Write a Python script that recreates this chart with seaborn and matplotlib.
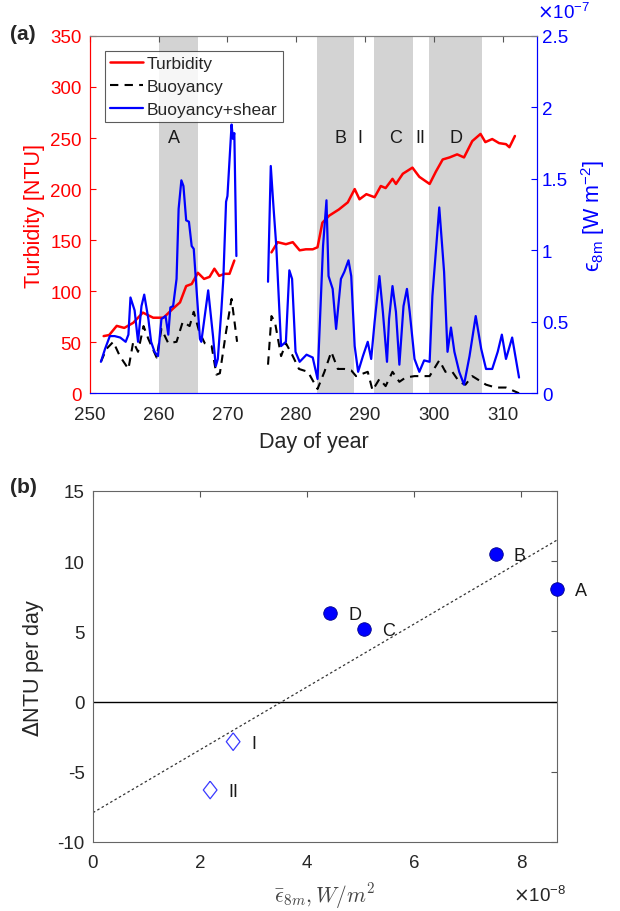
import numpy as np
import pandas as pd
import seaborn as sns
import matplotlib.pyplot as plt
from matplotlib.lines import Line2D
from matplotlib.ticker import FuncFormatter

sns.set_style('white')
plt.rcParams['font.family'] = ['Liberation Sans', 'DejaVu Sans']
plt.rcParams['axes.unicode_minus'] = False

# ---- panel (a): time series ----
turb_day1 = [252.0, 252.8, 253.9, 255.0, 256.3, 257.7, 259.2, 260.7, 262.1, 263.1,
             264.0, 264.8, 265.7, 266.6, 267.4, 268.1, 268.8, 269.6, 270.3, 271.0]
turb_ntu1 = [56, 57, 66, 64, 69, 79, 74, 74, 83, 89,
             105, 107, 118, 112, 114, 122, 115, 117, 117, 130]
turb_day2 = [276.4, 277.3, 278.5, 279.5, 280.5, 281.4, 282.4, 283.1, 283.8, 284.8,
             286.2, 287.5, 288.5, 289.2, 290.2, 291.4, 292.3, 293.0, 294.0, 294.5,
             295.5, 296.9, 297.9, 299.4, 300.3, 301.3, 302.3, 303.4, 304.4, 305.6,
             306.8, 307.5, 308.5, 309.5, 310.5, 311.0, 311.8]
turb_ntu2 = [138, 148, 146, 148, 140, 141, 141, 143, 167, 174,
             180, 187, 200, 190, 195, 192, 203, 201, 210, 205,
             215, 221, 212, 205, 217, 229, 231, 234, 231, 247,
             254, 246, 249, 245, 244, 241, 252]

# dissipation, units of 1e-7 W m^-2
buoy_day1 = [251.6, 252.4, 253.4, 254.35, 255.6, 256.3, 257.0, 257.8, 258.5, 259.7,
             260.4, 261.4, 262.6, 263.5, 264.5, 265.1, 265.9, 266.7, 267.7, 268.4,
             268.9, 269.8, 270.6, 271.4]
buoy_eps1 = [0.22, 0.31, 0.36, 0.26, 0.17, 0.36, 0.29, 0.47, 0.38, 0.25,
             0.45, 0.35, 0.36, 0.50, 0.47, 0.57, 0.43, 0.35, 0.33, 0.13,
             0.14, 0.43, 0.66, 0.36]
buoy_day2 = [275.9, 276.4, 276.9, 277.8, 278.5, 279.4, 280.4, 281.7, 283.1, 284.1,
             285.1, 286.05, 287.0, 288.0, 288.7, 290.4, 291.1, 292.1, 293.0, 294.0,
             295.0, 295.9, 297.2, 298.4, 299.4, 300.8, 301.7, 302.7, 303.7, 304.6,
             305.6, 306.6, 307.6, 309.0, 310.5, 312.4]
buoy_eps2 = [0.20, 0.54, 0.50, 0.26, 0.35, 0.27, 0.17, 0.15, 0.03, 0.15,
             0.29, 0.17, 0.17, 0.16, 0.12, 0.15, 0.02, 0.10, 0.05, 0.15,
             0.08, 0.11, 0.12, 0.12, 0.12, 0.23, 0.15, 0.15, 0.08, 0.06,
             0.12, 0.09, 0.06, 0.04, 0.04, 0.0]

bs_day1 = [251.6, 252.2, 252.9, 253.6, 254.4, 255.2, 255.6, 255.9, 256.5, 257.0,
           257.5, 257.9, 258.5, 258.9, 259.4, 259.9, 260.4, 261.0, 261.4, 261.7,
           262.1, 262.6, 262.9, 263.3, 263.6, 264.0, 264.4, 264.8, 265.1, 265.5,
           266.0, 266.2, 267.2, 267.9, 268.3, 268.6, 269.1, 269.4, 269.8, 270.0,
           270.6, 270.8, 271.0, 271.3]
bs_eps1 = [0.22, 0.31, 0.40, 0.40, 0.39, 0.36, 0.41, 0.67, 0.58, 0.36,
           0.61, 0.69, 0.52, 0.36, 0.29, 0.26, 0.52, 0.54, 0.41, 0.60,
           0.61, 0.80, 1.29, 1.49, 1.45, 1.21, 1.20, 1.03, 1.01, 0.73,
           0.38, 0.36, 0.72, 0.40, 0.19, 0.24, 0.57, 0.80, 1.34, 1.38,
           1.88, 1.78, 1.82, 0.96]
bs_day2 = [275.9, 276.3, 276.7, 277.1, 277.8, 278.5, 279.0, 279.4, 279.9, 280.5,
           281.5, 282.4, 283.1, 283.9, 284.4, 284.7, 285.3, 285.8, 286.5, 287.0,
           287.6, 288.0, 288.5, 289.0, 289.7, 290.4, 290.9, 291.4, 292.1, 292.6,
           293.2, 293.5, 294.0, 294.5, 295.0, 295.6, 296.1, 296.5, 297.2, 297.9,
           298.6, 299.4, 299.8, 300.8, 301.5, 302.0, 302.5, 303.0, 303.7, 304.4,
           305.2, 306.1, 306.9, 307.6, 308.5, 309.3, 309.9, 310.5, 311.4, 312.4]
bs_eps2 = [0.78, 1.59, 1.30, 1.03, 0.33, 0.36, 0.86, 0.80, 0.29, 0.22,
           0.27, 0.25, 0.10, 1.03, 1.35, 0.82, 0.73, 0.45, 0.80, 0.85,
           0.93, 0.82, 0.33, 0.15, 0.26, 0.36, 0.24, 0.50, 0.82, 0.57,
           0.22, 0.52, 0.75, 0.57, 0.20, 0.61, 0.73, 0.57, 0.24, 0.15,
           0.23, 0.22, 0.68, 1.30, 0.85, 0.29, 0.46, 0.29, 0.15, 0.06,
           0.26, 0.54, 0.31, 0.17, 0.17, 0.29, 0.41, 0.24, 0.39, 0.11]

event_start = [260.0, 283.05, 291.33, 299.31]
event_end = [265.7, 288.47, 296.93, 307.0]
period_names = ['A', 'B', 'I', 'C', 'II', 'D']
period_days = [262.2, 286.5, 289.2, 294.5, 298.1, 303.2]

# ---- panel (b): event means ----
ev_names = ['A', 'B', 'C', 'D']
ev_eps = [8.67, 7.53, 5.07, 4.43]       # x 1e-8 W/m^2
ev_dntu = [8.0, 10.5, 5.14, 6.3]
calm_names = ['I', 'II']
calm_eps = [2.62, 2.19]
calm_dntu = [-2.86, -6.3]


def segments(*pairs):
    frames = []
    for k, (d, v) in enumerate(pairs):
        frames.append(pd.DataFrame({'day': d, 'val': v, 'seg': k}))
    return pd.concat(frames, ignore_index=True)


turb_df = segments((turb_day1, turb_ntu1), (turb_day2, turb_ntu2))
buoy_df = segments((buoy_day1, buoy_eps1), (buoy_day2, buoy_eps2))
bs_df = segments((bs_day1, bs_eps1), (bs_day2, bs_eps2))

RED = '#ff0000'
BLUE = '#0000ff'
GREY_TXT = '#262626'
TICK_FS = 13.5
LAB_FS = 15.5

fig = plt.figure(figsize=(6.2, 9.12), dpi=100)

ax = fig.add_axes([0.145, 0.5677, 0.721, 0.3918])
for s, e in zip(event_start, event_end):
    ax.axvspan(s, e, color='#d3d3d3', lw=0, zorder=0)
for n, d in zip(period_names, period_days):
    ax.text(d, 251, n, ha='center', va='center', fontsize=13, color='#1a1a1a')

sns.lineplot(data=turb_df, x='day', y='val', units='seg', estimator=None, sort=False,
             color=RED, lw=1.8, ax=ax, legend=False)
ax.set_xlim(250, 315)
ax.set_ylim(0, 350)
ax.set_yticks(range(0, 351, 50))
ax.set_xticks(range(250, 311, 10))
ax.set_xlabel('Day of year', fontsize=LAB_FS, color=GREY_TXT, labelpad=6)
ax.set_ylabel('Turbidity [NTU]', fontsize=LAB_FS, color=RED, labelpad=4)
ax.tick_params(axis='x', direction='in', length=4, top=True, labelsize=TICK_FS,
               labelcolor=GREY_TXT, color='#555555', pad=9)
ax.tick_params(axis='y', direction='in', length=4, labelsize=TICK_FS, colors=RED, pad=6)

ax2 = ax.twinx()
sns.lineplot(data=buoy_df, x='day', y='val', units='seg', estimator=None, sort=False,
             color='black', lw=1.5, ls=(0, (4, 3)), ax=ax2, legend=False)
sns.lineplot(data=bs_df, x='day', y='val', units='seg', estimator=None, sort=False,
             color=BLUE, lw=1.6, ax=ax2, legend=False)
ax2.set_xlim(250, 315)
ax2.set_ylim(0, 2.5)
ax2.set_yticks(np.arange(0, 2.51, 0.5))
ax2.yaxis.set_major_formatter(FuncFormatter(lambda v, p: f'{v:g}'))
ax2.tick_params(axis='y', direction='in', length=4, labelsize=TICK_FS, colors=BLUE)
ax2.set_ylabel('\u03f5$_{\\mathregular{8m}}$ [W m$^{\\mathregular{-2}}$]',
               fontsize=LAB_FS, color=BLUE, labelpad=8)
ax2.text(1.0, 1.04, r'$\times$10$^{\mathregular{-7}}$', transform=ax2.transAxes,
         ha='left', va='bottom', fontsize=TICK_FS, color=BLUE)

for a in (ax, ax2):
    a.spines['left'].set_color(RED)
    a.spines['right'].set_color(BLUE)
    a.spines['bottom'].set_color(BLUE)
    a.spines['top'].set_color('#808080')
    for sp in a.spines.values():
        sp.set_linewidth(0.8)

handles = [Line2D([], [], color=RED, lw=1.8),
           Line2D([], [], color='black', lw=1.5, ls=(0, (4, 3))),
           Line2D([], [], color=BLUE, lw=1.6)]
leg = ax2.legend(handles, ['Turbidity', 'Buoyancy', 'Buoyancy+shear'],
                 loc='upper left', bbox_to_anchor=(0.034, 0.958), fontsize=12.5,
                 frameon=True, fancybox=False, handlelength=1.9, handletextpad=0.2,
                 borderpad=0.3, labelspacing=0.45, borderaxespad=0)
leg.get_frame().set_edgecolor('#333333')
leg.get_frame().set_linewidth(0.8)

# ---- panel (b) ----
ax3 = fig.add_axes([0.150, 0.0757, 0.748, 0.385])
ax3.set_xlim(0, max(ev_eps))
ax3.axhline(0, color='black', lw=1.0, zorder=1)
sns.regplot(x=ev_eps + calm_eps, y=ev_dntu + calm_dntu, ax=ax3, scatter=False,
            ci=None, truncate=False,
            line_kws=dict(color='#333333', lw=0.9, ls=(0, (2, 2))))
sns.scatterplot(x=ev_eps, y=ev_dntu, ax=ax3, color=BLUE, marker='o', s=95,
                edgecolor='#00008b', linewidth=0.6, clip_on=False, zorder=3)
diamond = [(0, 1), (0.78, 0), (0, -1), (-0.78, 0), (0, 1)]
sns.scatterplot(x=calm_eps, y=calm_dntu, ax=ax3, marker=diamond, s=160,
                color=BLUE, zorder=3)
ax3.collections[-1].set_facecolor('none')
ax3.collections[-1].set_edgecolor('#3a3aff')
ax3.collections[-1].set_linewidth(0.9)

for n, x, y in zip(ev_names + calm_names, ev_eps + calm_eps, ev_dntu + calm_dntu):
    ax3.annotate(n, (x, y), xytext=(13, -1), textcoords='offset points',
                 ha='left', va='center', fontsize=13, color='#1a1a1a',
                 annotation_clip=False)

ax3.set_xlim(0, max(ev_eps))
ax3.set_ylim(-10, 15)
ax3.set_xticks([0, 2, 4, 6, 8])
ax3.set_yticks(range(-10, 16, 5))
ax3.tick_params(direction='in', length=4, top=True, right=True, labelsize=TICK_FS,
                labelcolor=GREY_TXT, color='#555555')
ax3.tick_params(axis='x', pad=9)
ax3.tick_params(axis='y', pad=6)
for sp in ax3.spines.values():
    sp.set_color('#666666')
    sp.set_linewidth(0.8)
ax3.set_ylabel(r'$\Delta$NTU per day', fontsize=LAB_FS, color=GREY_TXT, labelpad=8)
ax3.set_xlabel(r'$\bar{\epsilon}_{8m}, W/m^2$', fontsize=LAB_FS, color='#444444',
               math_fontfamily='cm', labelpad=6)
ax3.text(1.02, -0.12, r'$\times$10$^{\mathregular{-8}}$', transform=ax3.transAxes,
         ha='right', va='top', fontsize=TICK_FS, color=GREY_TXT)

fig.text(0.016, 0.962, '(a)', fontsize=15, fontweight='bold', va='center')
fig.text(0.016, 0.466, '(b)', fontsize=15, fontweight='bold', va='center')

fig.savefig('out.png', dpi=100)
